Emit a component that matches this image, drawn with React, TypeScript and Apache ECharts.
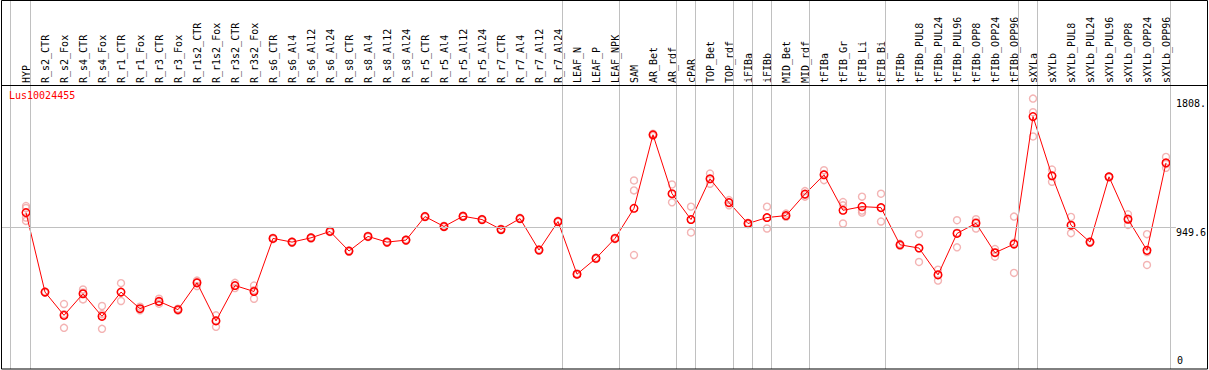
import React, { useEffect, useRef } from "react";
import * as echarts from "echarts";

const categories = [
  "HYP", "R_s2_CTR", "R_s2_Fox", "R_s4_CTR", "R_s4_Fox", "R_r1_CTR", "R_r1_Fox", "R_r3_CTR", "R_r3_Fox",
  "R_r1s2_CTR", "R_r1s2_Fox", "R_r3s2_CTR", "R_r3s2_Fox", "R_s6_CTR", "R_s6_Al4", "R_s6_Al12", "R_s6_Al24",
  "R_s8_CTR", "R_s8_Al4", "R_s8_Al12", "R_s8_Al24", "R_r5_CTR", "R_r5_Al4", "R_r5_Al12", "R_r5_Al24",
  "R_r7_CTR", "R_r7_Al4", "R_r7_Al12", "R_r7_Al24", "LEAF_N", "LEAF_P", "LEAF_NPK", "SAM", "AR_Bet", "AR_rdf",
  "cPAR", "TOP_Bet", "TOP_rdf", "iFIBa", "iFIBb", "MID_Bet", "MID_rdf", "tFIBa", "tFIB_Gr", "tFIB_Li", "tFIB_Bi",
  "tFIBb", "tFIBb_PUL8", "tFIBb_PUL24", "tFIBb_PUL96", "tFIBb_OPP8", "tFIBb_OPP24", "tFIBb_OPP96",
  "sXYLa", "sXYLb", "sXYLb_PUL8", "sXYLb_PUL24", "sXYLb_PUL96", "sXYLb_OPP8", "sXYLb_OPP24", "sXYLb_OPP96",
];

const means = [
  1049.0, 519.2, 364.2, 508.0, 357.6, 519.2, 408.6, 457.0, 402.0, 580.8, 327.2, 562.9, 523.2,
  876.8, 852.3, 880.8, 923.2, 792.7, 890.1, 852.3, 865.6, 1022.5, 956.3, 1024.5, 1002.6,
  936.4, 1009.3, 799.3, 989.4, 638.4, 744.4, 876.8, 1077.5, 1567.5, 1174.8, 1002.6, 1274.2,
  1115.2, 976.2, 1015.9, 1029.1, 1172.2, 1300.7, 1064.2, 1088.7, 1082.1, 834.4, 812.6, 633.8,
  909.9, 978.1, 781.5, 839.1, 1688.7, 1294.0, 964.9, 852.3, 1287.4, 1004.6, 797.3, 1380.1,
];

const replicates = [
  [1092.7, 1079.5, 1015.9, 993.4],
  [515, 519, 523],
  [439.7, 280.8, 372.2],
  [536.4, 470.2, 517.2],
  [426.5, 274.2, 372.2],
  [578.8, 459.6, 519.2],
  [397.4, 421.9, 408.6],
  [474.8, 441.7, 455.0],
  [408.6, 395.4, 402.0],
  [596.0, 558.9, 587.4],
  [364.2, 287.4, 329.1],
  [580.8, 545.7, 562.3],
  [562.9, 474.8, 531.8],
  [872, 877, 881],
  [848, 852, 857],
  [876, 881, 885],
  [919, 923, 928],
  [788, 793, 797],
  [886, 890, 894],
  [848, 852, 857],
  [861, 866, 870],
  [1018, 1022, 1027],
  [952, 956, 961],
  [1020, 1025, 1029],
  [998, 1003, 1007],
  [932, 936, 941],
  [1005, 1009, 1014],
  [795, 799, 804],
  [985, 989, 994],
  [634, 638, 643],
  [740, 744, 749],
  [872, 877, 881],
  [1262.9, 1196.7, 766.2],
  [1560, 1568, 1575],
  [1236.4, 1117.2, 1170.9],
  [1088.7, 916.6, 1002.6],
  [1309.3, 1241.1, 1272.2],
  [1132.4, 1097.3, 1115.9],
  [972, 976, 981],
  [1088.7, 943.0, 1015.9],
  [1042.4, 1024.5, 1020.5],
  [1192.1, 1155.0, 1169.5],
  [1331.1, 1264.9, 1306.0],
  [1119.2, 1097.3, 976.2],
  [1155.0, 1049.0, 1062.2],
  [1174.8, 989.4, 1082.1],
  [828, 834, 841],
  [905.3, 719.9, 812.6],
  [668.9, 596.0, 636.4],
  [998.0, 817.2, 914.6],
  [1004.6, 943.0, 986.8],
  [806.0, 755.0, 783.4],
  [1022.5, 647.0, 847.7],
  [1808.76, 1717.9, 1556.3],
  [1335.8, 1254.3, 1292.0],
  [1019.9, 911.9, 962.9],
  [848, 852, 857],
  [1283, 1288, 1291],
  [1037.7, 966.9, 1009.3],
  [905.3, 700.0, 786.1],
  [1419.9, 1347.0, 1372.8],
];

// index of the last category of each group (a separator line follows it)
const groupEnds = [0, 28, 31, 34, 35, 37, 38, 39, 41, 45, 52, 53, 60];
const geneName = "Lus10024455";
const yMax = 1899.2;
const yMid = 949.6;
const yMaxData = 1808.76;

const FONT = "DejaVu Sans Mono";

export default function App() {
  const ref = useRef<HTMLDivElement>(null);

  useEffect(() => {
    if (!ref.current) return;
    const chart = echarts.init(ref.current, undefined, { renderer: "svg" });

    const repData: number[][] = [];
    replicates.forEach((reps, i) => reps.forEach((v) => repData.push([i, v])));

    const sepLines = [{ xAxis: -0.82 }, ...groupEnds.map((i) => ({ xAxis: i + 0.24 }))];

    const plotTop = 85;
    const plotHeight = 286.8;
    const band = 19;
    const mainLeft = 16.5;
    const sepLeft = 1;
    const sepMin = -0.5 - (mainLeft - sepLeft) / band;

    chart.setOption({
      animation: false,
      title: {
        text: geneName,
        left: 9,
        top: 90,
        padding: 0,
        textStyle: { color: "#ff0000", fontFamily: FONT, fontSize: 10, fontWeight: "normal" },
      },
      grid: [
        { left: mainLeft, width: band * categories.length, top: plotTop, height: plotHeight },
        { left: sepLeft, width: band * categories.length + (mainLeft - sepLeft), top: 0, height: 369 },
        { left: 1, width: 1177, top: plotTop, height: plotHeight },
      ],
      xAxis: [
        {
          gridIndex: 0,
          type: "category",
          data: categories,
          position: "top",
          boundaryGap: true,
          axisLine: { show: false },
          axisTick: { show: false },
          splitLine: { show: false },
          axisLabel: {
            interval: 0,
            rotate: 90,
            margin: 2,
            color: "#000",
            fontFamily: FONT,
            fontSize: 10,
          },
        },
        { gridIndex: 1, type: "value", min: sepMin, max: 60.5, show: false },
        { gridIndex: 2, type: "value", min: 0, max: 1, show: false },
      ],
      yAxis: [
        { gridIndex: 0, type: "value", min: 0, max: yMax, show: false },
        { gridIndex: 1, type: "value", min: 0, max: 1, show: false },
        {
          gridIndex: 2,
          type: "value",
          min: 0,
          max: yMax,
          position: "right",
          axisLine: { show: false },
          axisTick: { show: false },
          splitLine: { show: false },
          axisLabel: {
            customValues: [yMid, yMaxData],
            formatter: (v: number) => String(v).slice(0, 5),
            verticalAlign: "top",
            align: "left",
            margin: 0,
            color: "#000",
            fontFamily: FONT,
            fontSize: 10,
          },
        },
        {
          gridIndex: 2,
          type: "value",
          min: 0,
          max: yMax,
          position: "right",
          axisLine: { show: false },
          axisTick: { show: false },
          splitLine: { show: false },
          axisLabel: {
            customValues: [0],
            formatter: (v: number) => String(v).slice(0, 5),
            verticalAlign: "bottom",
            align: "left",
            margin: 1,
            padding: [0, 0, 5, 0],
            color: "#000",
            fontFamily: FONT,
            fontSize: 10,
          },
        },
      ],
      series: [
        {
          type: "scatter",
          xAxisIndex: 1,
          yAxisIndex: 1,
          data: [[-5, -5]],
          symbolSize: 0,
          silent: true,
          markLine: {
            silent: true,
            symbol: ["none", "none"],
            label: { show: false },
            lineStyle: { color: "#c0c0c0", width: 1, type: "solid" },
            data: sepLines,
          },
          z: 1,
        },
        {
          type: "scatter",
          xAxisIndex: 2,
          yAxisIndex: 2,
          data: [[-5, -5]],
          symbolSize: 0,
          silent: true,
          markLine: {
            silent: true,
            symbol: ["none", "none"],
            label: { show: false },
            lineStyle: { color: "#c0c0c0", width: 1, type: "solid" },
            data: [{ yAxis: yMid }],
          },
          z: 1,
        },
        {
          name: "replicates",
          type: "scatter",
          xAxisIndex: 0,
          yAxisIndex: 0,
          data: repData,
          symbol: "circle",
          symbolSize: 7,
          itemStyle: { color: "rgba(0,0,0,0)", borderColor: "#f0a0a0", borderWidth: 1.4 },
          z: 2,
        },
        {
          name: "mean",
          type: "line",
          xAxisIndex: 0,
          yAxisIndex: 0,
          data: means,
          symbol: "circle",
          symbolSize: 7.5,
          showAllSymbol: true,
          lineStyle: { color: "#ff0000", width: 1 },
          itemStyle: { color: "rgba(0,0,0,0)", borderColor: "#ff0000", borderWidth: 1.5 },
          z: 3,
        },
      ],
      graphic: [
        {
          type: "rect",
          z: 100,
          silent: true,
          shape: { x: 1.5, y: 0.5, width: 1206, height: 368.5 },
          style: { fill: "none", stroke: "#000", lineWidth: 1 },
        },
        {
          type: "line",
          z: 100,
          silent: true,
          shape: { x1: 1, y1: 85.5, x2: 1208, y2: 85.5 },
          style: { stroke: "#000", lineWidth: 1 },
        },
      ],
    });

    return () => chart.dispose();
  }, []);

  return (
    <div
      ref={ref}
      style={{ position: "absolute", left: 0, top: 0, width: 1209, height: 370, background: "#fff" }}
    />
  );
}
